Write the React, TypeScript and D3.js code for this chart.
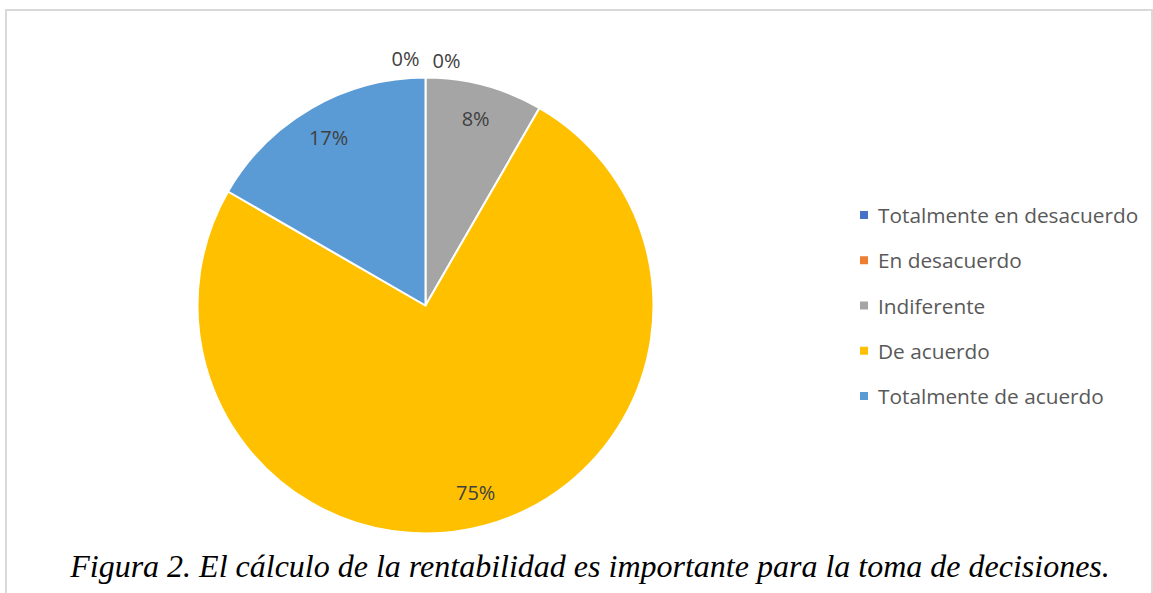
import React, { useRef, useEffect } from "react";
import * as d3 from "d3";

const categories = [
  "Totalmente en desacuerdo",
  "En desacuerdo",
  "Indiferente",
  "De acuerdo",
  "Totalmente de acuerdo",
];
const values = [0, 0, 1, 9, 2];
const labels = ["0%", "0%", "8%", "75%", "17%"];
const colors = ["#4472C4", "#ED7D31", "#A5A5A5", "#FFC000", "#5B9BD5"];
const caption = "Figura 2. El cálculo de la rentabilidad es importante para la toma de decisiones.";

const W = 1153;
const H = 593;

const App: React.FC = () => {
  const svgRef = useRef<SVGSVGElement | null>(null);

  useEffect(() => {
    const svg = d3.select(svgRef.current);
    svg.selectAll("*").remove();

    // chart frame
    svg
      .append("rect")
      .attr("x", 6)
      .attr("y", 10)
      .attr("width", 1146)
      .attr("height", 620)
      .attr("fill", "#fff")
      .attr("stroke", "#d9d9d9")
      .attr("stroke-width", 2);

    const cx = 425.5;
    const cy = 305.5;
    const r = 228;

    const pie = d3
      .pie<number>()
      .sort(null)
      .value((d) => d);
    const arcs = pie(values);
    const arc = d3.arc<d3.PieArcDatum<number>>().innerRadius(0).outerRadius(r);
    const labelArc = d3.arc<d3.PieArcDatum<number>>().innerRadius(r * 0.85).outerRadius(r * 0.85);
    const outArc = d3.arc<d3.PieArcDatum<number>>().innerRadius(r + 19).outerRadius(r + 19);

    const g = svg.append("g").attr("transform", `translate(${cx},${cy})`);

    g.selectAll("path.slice")
      .data(arcs)
      .enter()
      .append("path")
      .attr("class", "slice")
      .attr("d", arc)
      .attr("fill", (_, i) => colors[i])
      .attr("stroke", "#fff")
      .attr("stroke-width", 2)
      .attr("stroke-linejoin", "round");

    let zeroCount = 0;
    g.selectAll("text.lbl")
      .data(arcs)
      .enter()
      .append("text")
      .attr("class", "lbl")
      .attr("transform", (d) => {
        if (d.value === 0) {
          const [x, y] = outArc.centroid(d);
          const off = zeroCount++ === 0 ? -20 : 21;
          return `translate(${x + off},${y + (off < 0 ? 0 : 2)})`;
        }
        const [x, y] = labelArc.centroid(d);
        return `translate(${x},${y})`;
      })
      .attr("text-anchor", "middle")
      .attr("dominant-baseline", "central")
      .attr("font-family", "'Open Sans', sans-serif")
      .attr("font-size", 20)
      .attr("fill", "#404040")
      .text((_, i) => labels[i]);

    // legend
    const ly = d3
      .scalePoint<string>()
      .domain(categories)
      .range([215, 396]);
    const legend = svg
      .append("g")
      .selectAll("g")
      .data(categories)
      .enter()
      .append("g")
      .attr("transform", (d) => `translate(860,${ly(d)})`);
    legend
      .append("rect")
      .attr("x", 0)
      .attr("y", -4)
      .attr("width", 8)
      .attr("height", 8)
      .attr("fill", (_, i) => colors[i]);
    legend
      .append("text")
      .attr("x", 18)
      .attr("y", 0)
      .attr("dominant-baseline", "central")
      .attr("font-family", "'Open Sans', sans-serif")
      .attr("font-size", 20.8)
      .attr("fill", "#595959")
      .text((d) => d);

    svg
      .append("text")
      .attr("x", 590)
      .attr("y", 577)
      .attr("text-anchor", "middle")
      .attr("font-family", "'Liberation Serif', 'Times New Roman', serif")
      .attr("font-style", "italic")
      .attr("font-size", 32)
      .attr("fill", "#000")
      .text(caption);
  }, []);

  return (
    <svg
      ref={svgRef}
      width={W}
      height={H}
      style={{ position: "absolute", left: 0, top: 0, display: "block" }}
    />
  );
};

export default App;
